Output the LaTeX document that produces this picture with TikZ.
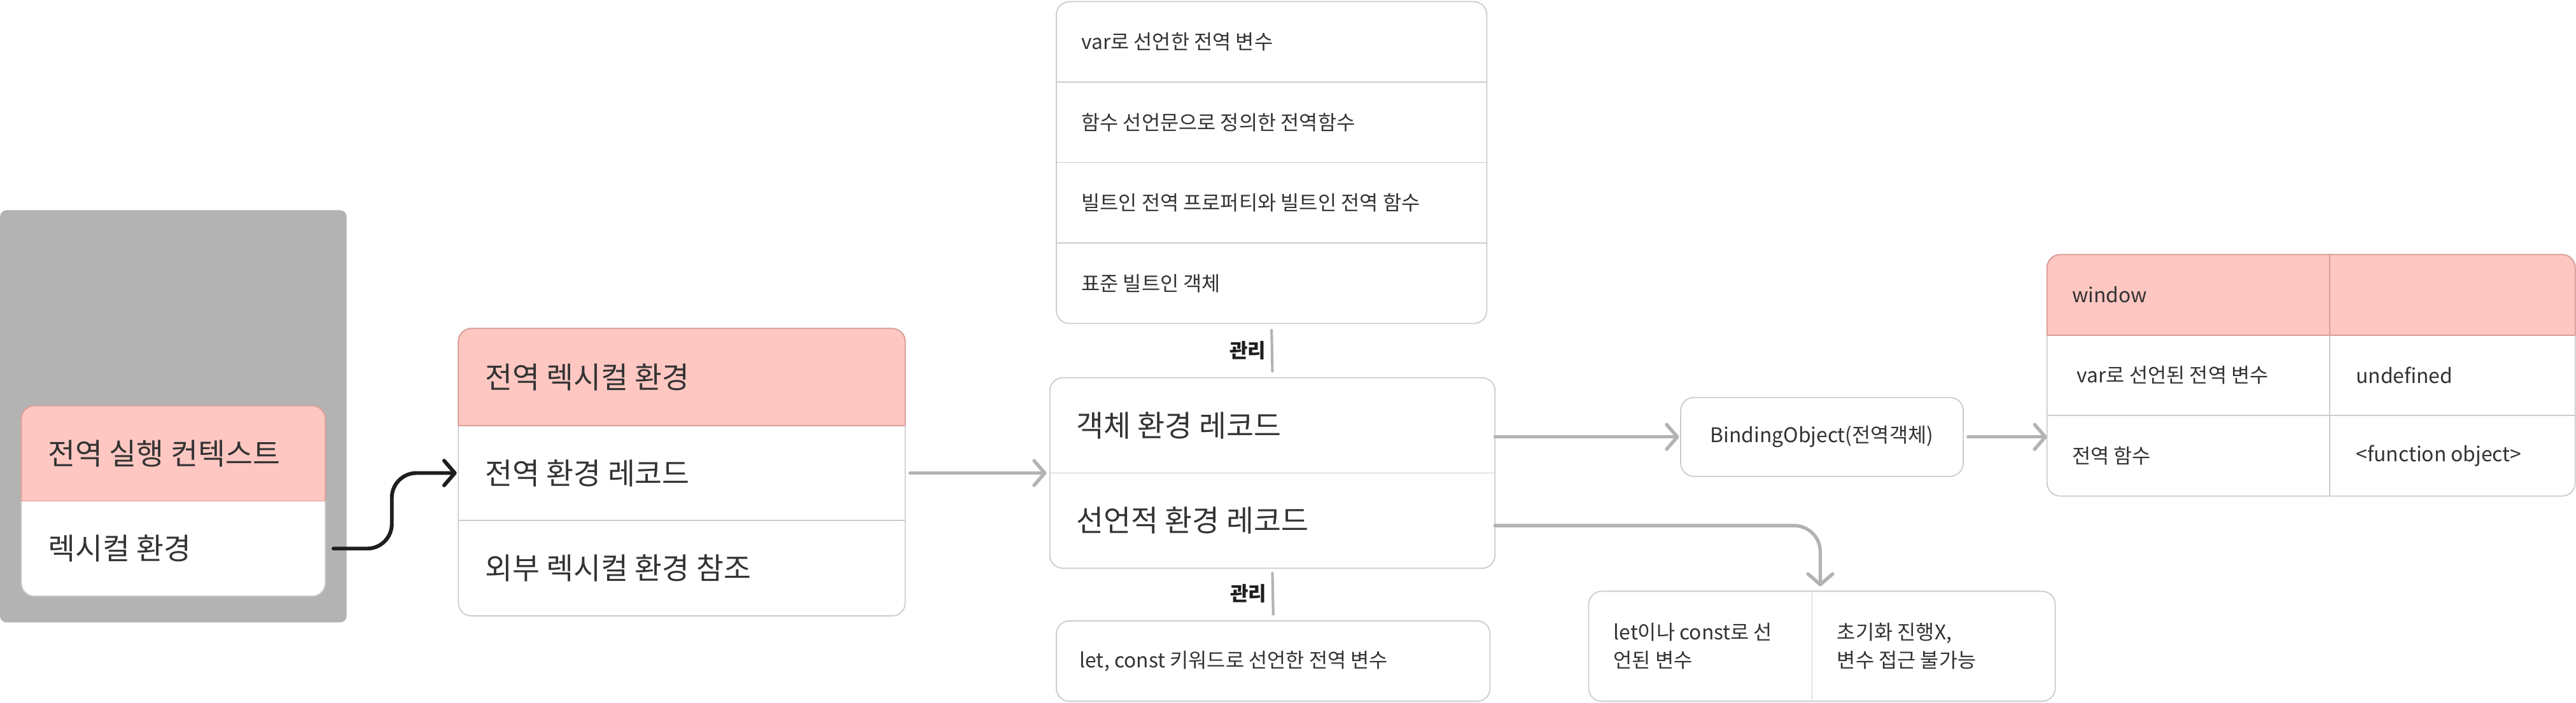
\documentclass[tikz,border=0pt]{standalone}
\usepackage{fontspec}
\setmainfont{Noto Sans CJK KR}
\usetikzlibrary{arrows.meta,calc}
\definecolor{pinkf}{HTML}{FFC7C2}
\definecolor{pinkd}{HTML}{D99C96}
\definecolor{bord}{HTML}{CCCCCC}
\definecolor{garr}{HTML}{B3B3B3}
\definecolor{outerg}{HTML}{B3B3B3}
\definecolor{txt}{HTML}{333333}
\definecolor{blk}{HTML}{1E1E1E}
\definecolor{lblc}{HTML}{1E1E1E}
\newcommand\pinkhead[2]{%
  \begin{scope}
    \clip[rounded corners=8pt] (#1.north west) rectangle (#1.south east);
    \fill[pinkf] (#1.north west) rectangle (#2.south east);
  \end{scope}
  \begin{scope}
    \clip ([xshift=-2pt,yshift=2pt]#1.north west) rectangle ([xshift=2pt]#2.south east);
    \draw[pinkd, line width=0.7pt, rounded corners=8pt] (#1.north west) rectangle (#1.south east);
  \end{scope}
  \draw[pinkd, line width=0.7pt] (#2.south west) -- (#2.south east);
}
\begin{document}
\begin{tikzpicture}[x=1pt,y=-1pt,
  boxst/.style={draw=bord, line width=0.7pt, rounded corners=8pt, fill=white, inner sep=0pt, outer sep=0pt, anchor=north west},
  cell/.style={inner sep=0pt, outer sep=0pt, anchor=north west},
  bigt/.style={font=\fontsize{18.1}{22}\selectfont, text=txt, anchor=west, inner sep=0pt},
  smt/.style={font=\fontsize{12.3}{17}\selectfont, text=txt, anchor=west, inner sep=0pt},
  lbl/.style={font=\fontsize{12}{14}\selectfont\bfseries, text=lblc, inner sep=0pt},
  divl/.style={draw=bord, line width=0.7pt},
  garrow/.style={draw=garr, line width=2.1pt, line cap=round, -{Straight Barb[length=6.5pt,width=15pt,round]}},
  barrow/.style={draw=blk, line width=2.3pt, line cap=round, -{Straight Barb[length=6.5pt,width=15pt,round]}},
  mline/.style={draw=garr, line width=1.6pt, line cap=round},
]
\fill[white] (0,0) rectangle (1568,428);
\useasboundingbox (0,0) rectangle (1568,428);

% execution context
\node[fill=outerg, rounded corners=4pt, inner sep=0pt, outer sep=0pt, anchor=north west,
      minimum width=211pt, minimum height=251pt] (outer) at (0,128) {};
\node[boxst, minimum width=185pt, minimum height=116pt] (ctx) at (13,247) {};
\node[cell, minimum width=185pt, minimum height=58pt] (ctxh) at (13,247) {};
\node[cell, minimum width=185pt, minimum height=58pt] (ctxl) at (13,305) {};
\pinkhead{ctx}{ctxh}
\node[bigt] at ([xshift=16pt]ctxh.west) {전역 실행 컨텍스트};
\node[bigt] at ([xshift=16pt]ctxl.west) {렉시컬 환경};

% global lexical environment
\node[boxst, minimum width=272pt, minimum height=175pt] (gle) at (279,200) {};
\node[cell, minimum width=272pt, minimum height=59pt] (gle1) at (279,200) {};
\node[cell, minimum width=272pt, minimum height=58pt] (gle2) at (279,259) {};
\node[cell, minimum width=272pt, minimum height=58pt] (gle3) at (279,317) {};
\pinkhead{gle}{gle1}
\draw[divl] (gle3.north west) -- (gle3.north east);
\node[bigt] at ([xshift=16pt]gle1.west) {전역 렉시컬 환경};
\node[bigt] at ([xshift=16pt]gle2.west) {전역 환경 레코드};
\node[bigt] at ([xshift=16pt]gle3.west) {외부 렉시컬 환경 참조};

% top list
\node[boxst, minimum width=262pt, minimum height=196pt] (topb) at (643,1) {};
\node[cell, minimum width=262pt, minimum height=49pt] (tb1) at (643,1) {};
\node[cell, minimum width=262pt, minimum height=49pt] (tb2) at (643,50) {};
\node[cell, minimum width=262pt, minimum height=49pt] (tb3) at (643,99) {};
\node[cell, minimum width=262pt, minimum height=49pt] (tb4) at (643,148) {};
\draw[divl] (tb2.north west) -- (tb2.north east);
\draw[divl] (tb3.north west) -- (tb3.north east);
\draw[divl] (tb4.north west) -- (tb4.north east);
\node[smt] at ([xshift=15pt]tb1.west) {var로 선언한 전역 변수};
\node[smt] at ([xshift=15pt]tb2.west) {함수 선언문으로 정의한 전역함수};
\node[smt] at ([xshift=15pt]tb3.west) {빌트인 전역 프로퍼티와 빌트인 전역 함수};
\node[smt] at ([xshift=15pt]tb4.west) {표준 빌트인 객체};

% environment records
\node[boxst, minimum width=271pt, minimum height=116pt] (obj) at (639,230) {};
\node[cell, minimum width=271pt, minimum height=58pt] (obj1) at (639,230) {};
\node[cell, minimum width=271pt, minimum height=58pt] (obj2) at (639,288) {};
\draw[divl] (obj2.north west) -- (obj2.north east);
\node[bigt] at ([xshift=16pt]obj1.west) {객체 환경 레코드};
\node[bigt] at ([xshift=16pt]obj2.west) {선언적 환경 레코드};

% bottom box
\node[boxst, minimum width=264pt, minimum height=49pt] (botb) at (643,378) {};
\node[smt] at ([xshift=14pt]botb.west) {let, const 키워드로 선언한 전역 변수};

% manage lines
\draw[mline] ([yshift=-4pt]topb.south) -- node[lbl, left=3pt] {관리} ([yshift=4pt]obj.north);
\draw[mline] ([yshift=-3pt]obj.south) -- node[lbl, left=3pt] {관리} ([yshift=4pt]botb.north);

% binding object
\node[boxst, minimum width=172pt, minimum height=48pt, font=\fontsize{12.3}{14}\selectfont, text=txt] (bind) at (1023,242) {BindingObject(전역객체)};

% window table
\node[boxst, minimum width=321.5pt, minimum height=147pt] (win) at (1246,155) {};
\node[cell, minimum width=321.5pt, minimum height=49pt] (wr1) at (1246,155) {};
\node[cell, minimum width=321.5pt, minimum height=49pt] (wr2) at (1246,204) {};
\node[cell, minimum width=321.5pt, minimum height=49pt] (wr3) at (1246,253) {};
\pinkhead{win}{wr1}
\draw[divl] (wr3.north west) -- (wr3.north east);
\draw[pinkd, line width=0.7pt] ([xshift=172pt]wr1.north west) -- ([xshift=172pt]wr1.south west);
\draw[divl] ([xshift=172pt]wr2.north west) -- ([xshift=172pt]wr3.south west);
\node[smt] at ([xshift=15pt]wr1.west) {window};
\node[smt] at ([xshift=18pt]wr2.west) {var로 선언된 전역 변수};
\node[smt] at ([xshift=188pt]wr2.west) {undefined};
\node[smt] at ([xshift=15pt]wr3.west) {전역 함수};
\node[smt] at ([xshift=188pt]wr3.west) {<function object>};

% let/const box
\node[boxst, minimum width=284pt, minimum height=67pt] (letb) at (967,360) {};
\draw[divl] ([xshift=136pt]letb.north west) -- ([xshift=136pt]letb.south west);
\node[smt, align=left] at ([xshift=15pt]letb.west) {let이나 const로 선\\언된 변수};
\node[smt, align=left] at ([xshift=151pt]letb.west) {초기화 진행X,\\변수 접근 불가능};

% connectors
\coordinate (bend) at ($(ctxl.east)!0.5!(gle2.west)$);
\draw[barrow, rounded corners=15pt] ([xshift=5pt]ctxl.east) -| (bend |- gle2.west) -- ([xshift=-1pt]gle2.west);
\draw[garrow] ([xshift=3pt]gle2.east) -- ([xshift=-2pt]obj.west);
\draw[garrow] (bind.west -| obj.east) -- ([xshift=-1pt]bind.west);
\draw[garrow] ([xshift=3pt]bind.east) -- (bind.east -| win.west);
\coordinate (lettop) at ([xshift=141pt,yshift=3pt]letb.north west);
\draw[garrow, rounded corners=16pt] ([yshift=-3pt]obj2.east) -| (lettop);
\end{tikzpicture}
\end{document}
